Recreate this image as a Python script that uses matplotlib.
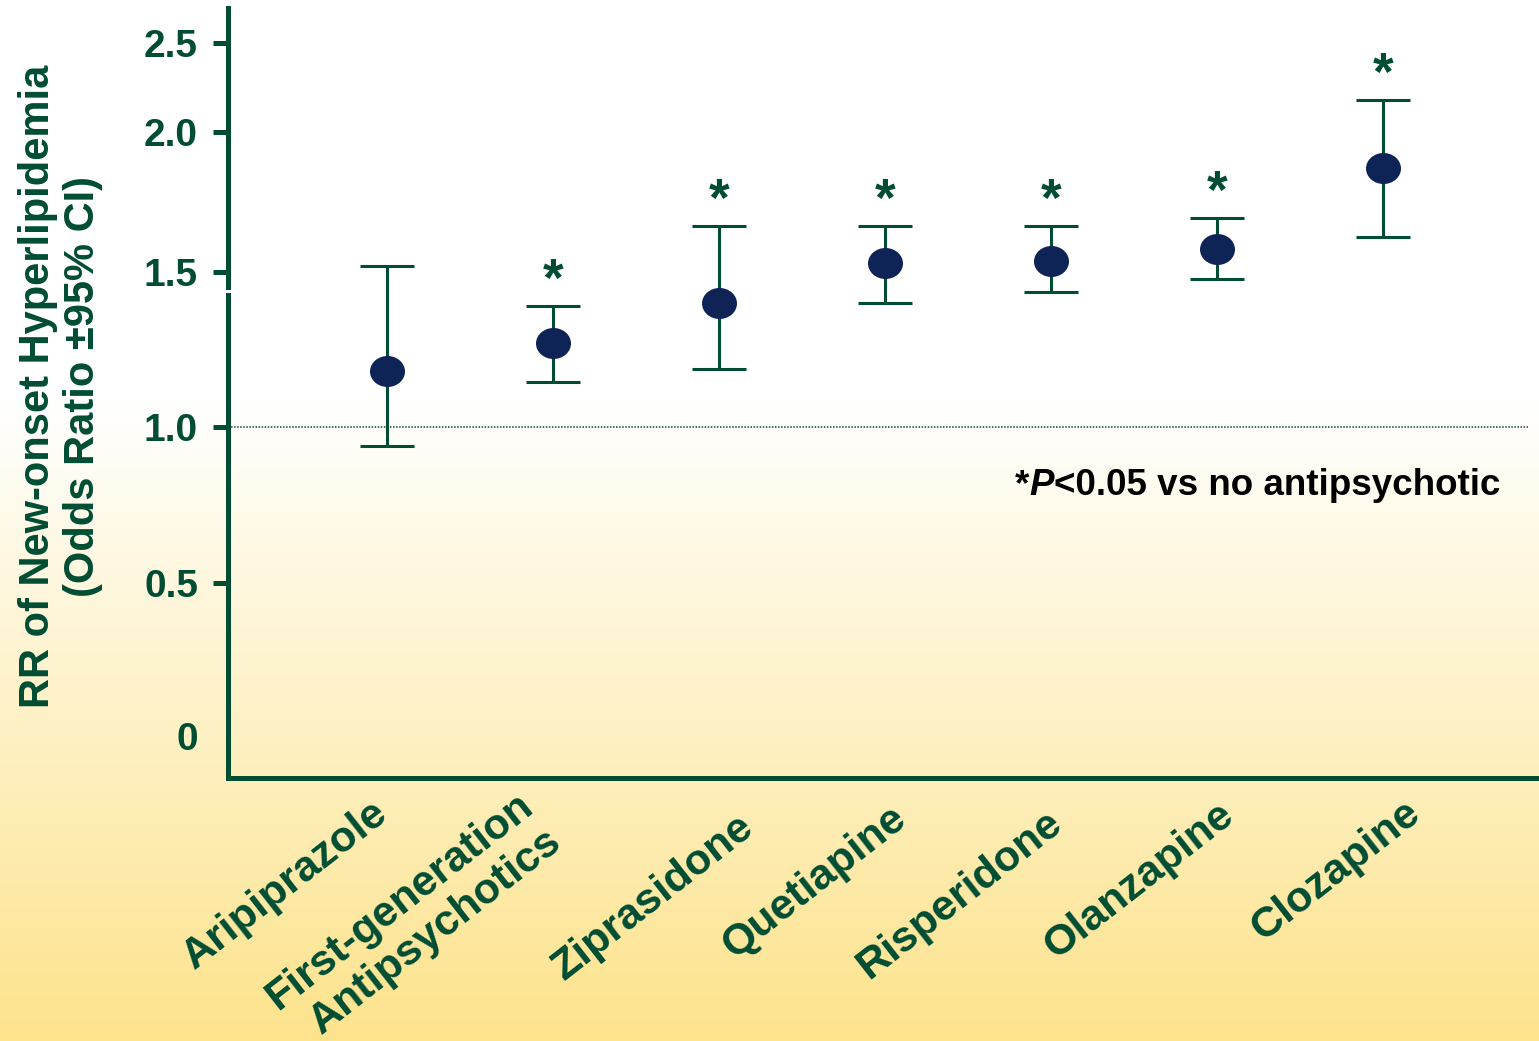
import numpy as np
import matplotlib
matplotlib.use("Agg")
import matplotlib.pyplot as plt
from matplotlib.path import Path
from matplotlib.transforms import Affine2D, ScaledTranslation, blended_transform_factory
from matplotlib.patches import Rectangle

# ---------------- data ----------------
drugs = ["Aripiprazole", "First-generation\nAntipsychotics", "Ziprasidone",
         "Quetiapine", "Risperidone", "Olanzapine", "Clozapine"]
odds_ratio = [1.18, 1.27, 1.40, 1.53, 1.54, 1.58, 1.87]
ci_lower = [0.94, 1.145, 1.186, 1.398, 1.434, 1.476, 1.623]
ci_upper = [1.52, 1.389, 1.663, 1.663, 1.663, 1.691, 2.178]
significant = [False, True, True, True, True, True, True]
y_ticks = [0, 0.5, 1.0, 1.5, 2.0, 2.5]
y_tick_labels = ["0", "0.5", "1.0", "1.5", "2.0", "2.5"]
reference_value = 1.0
y_label = "RR of New-onset Hyperlipidemia\n(Odds Ratio \u00b195% CI)"
footnote_parts = ["*", "P", "<0.05 vs no antipsychotic"]

# ---------------- style ----------------
GREEN = "#004D33"
NAVY = "#0E2456"
W, H, DPI = 1539, 1041, 100
# per-label pixel nudges of the slanted category labels (layout of the original slide)
label_nudges_px = [(-16, 0), (-37, 8), (18, -14), (4, -5), (-6, -10), (0, -2), (20, 0)]
plt.rcParams["font.family"] = ["Liberation Sans", "DejaVu Sans"]

fig = plt.figure(figsize=(W / DPI, H / DPI), dpi=DPI)
fig.patch.set_facecolor("white")

# background gradient (white top -> pale yellow bottom)
bg = fig.add_axes([0, 0, 1, 1], zorder=0)
rows = np.arange(H)
t = np.clip((rows - 400) / (H - 400), 0, 1)[:, None]
top_c = np.array([1.0, 1.0, 1.0])
bot_c = np.array([253, 227, 140]) / 255.0
grad = (1 - t) * top_c + t * bot_c
bg.imshow(grad[:, None, :], aspect="auto", extent=[0, 1, 0, 1], interpolation="bilinear")
bg.axis("off")

ax = fig.add_axes([228 / W, (H - 778) / H, 1 - 228 / W, (778 - 8) / H], zorder=1)
ax.patch.set_visible(False)

# piecewise axis scale as drawn in the original slide
_kv = [-0.5, 0.0, 0.5, 1.0, 1.5, 2.0, 2.5, 3.0]
_kp = [-153.3, 0.0, 153.3, 308.7, 464.3, 604.3, 692.7, 781.1]
def _fwd(v):
    return np.interp(v, _kv, _kp)
def _inv(p):
    return np.interp(p, _kp, _kv)
ax.set_yscale("function", functions=(_fwd, _inv))
ax.set_ylim(-0.137, 2.70)

x = np.arange(len(drugs))
ax.set_xlim(-0.958, 6.94)

or_arr = np.array(odds_ratio)
lo = or_arr - np.array(ci_lower)
hi = np.array(ci_upper) - or_arr
ax.errorbar(x, or_arr, yerr=[lo, hi], fmt="none", ecolor=GREEN,
            elinewidth=2.2, capsize=19.4, capthick=2.2, zorder=3)

ellipse = Affine2D().scale(1.0, 0.886).transform_path(Path.unit_circle())
ax.plot(x, or_arr, linestyle="none", marker=ellipse, markersize=25.2,
        color=NAVY, markeredgewidth=0, zorder=4)

ax.axhline(reference_value, xmin=0, xmax=(1528 - 228) / (W - 228), color=GREEN,
           linewidth=1.1, linestyle=(0, (1, 1)), zorder=2)

for xi, up, sig in zip(x, ci_upper, significant):
    if sig:
        ax.annotate("*", xy=(xi, up), xytext=(0, 7.2), textcoords="offset points",
                    ha="center", va="baseline", fontsize=38, fontweight="bold",
                    color=GREEN, zorder=5)

# spines
for s in ["top", "right"]:
    ax.spines[s].set_visible(False)
for s in ["left", "bottom"]:
    ax.spines[s].set_linewidth(3.6)
    ax.spines[s].set_color(GREEN)
    ax.spines[s].set_capstyle("projecting")

# small break in the left spine, as in the original
brk = Rectangle((-0.003, 1.4332), 0.006, 0.0096,
                transform=blended_transform_factory(ax.transAxes, ax.transData),
                facecolor="white", edgecolor="none", clip_on=False, zorder=6)
ax.add_patch(brk)

# y ticks
ax.set_yticks(y_ticks, y_tick_labels)
ax.tick_params(axis="y", direction="out", length=10.8, width=3.6, color=GREEN,
               pad=10.8, labelsize=28, labelcolor=GREEN)
for lbl in ax.get_yticklabels():
    lbl.set_fontweight("bold")
ax.yaxis.get_major_ticks()[0].tick1line.set_visible(False)

# x ticks
ax.set_xticks(x, drugs)
ax.tick_params(axis="x", length=0, pad=10.8, labelsize=31, labelcolor=GREEN)
for lbl, (dx, dy) in zip(ax.get_xticklabels(), label_nudges_px):
    lbl.set_rotation(38)
    lbl.set_ha("right")
    lbl.set_va("top")
    lbl.set_rotation_mode("anchor")
    lbl.set_fontweight("bold")
    lbl.set_transform(lbl.get_transform()
                      + ScaledTranslation(dx / DPI, dy / DPI, fig.dpi_scale_trans))

# y label
ax.set_ylabel(y_label, fontsize=30, fontweight="bold", color=GREEN, linespacing=1.17)
ax.yaxis.set_label_coords(-0.095, 0.509)

# footnote
t1 = fig.text(1015 / W, 1 - 495 / H, footnote_parts[0], fontsize=26.5, fontweight="bold",
              color="black", ha="left", va="baseline")
a2 = ax.annotate(footnote_parts[1], xycoords=t1, xy=(1, 0), va="bottom", ha="left",
                 fontsize=26.5, fontweight="bold", fontstyle="italic", color="black",
                 annotation_clip=False)
a3 = ax.annotate(footnote_parts[2], xycoords=a2, xy=(1, 0), va="bottom", ha="left",
                 fontsize=26.5, fontweight="bold", color="black", annotation_clip=False)

fig.savefig("out.png", dpi=DPI)
